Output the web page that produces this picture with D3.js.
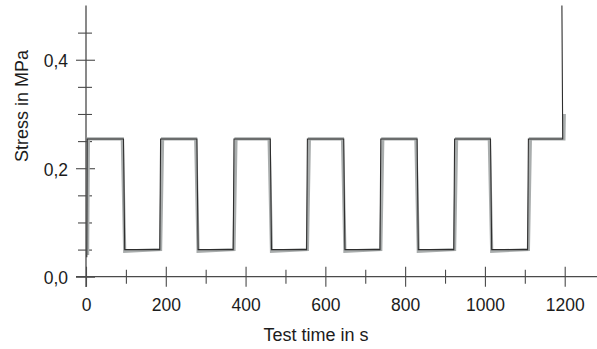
<!DOCTYPE html>
<html>
<head>
<meta charset="utf-8">
<script src="https://cdn.jsdelivr.net/npm/d3@7"></script>
<style>
  body { margin: 0; background: #fff; }
  svg text { font-family: "Liberation Sans", Arial, sans-serif; fill: #1c1c1c; }
</style>
</head>
<body>
<svg id="chart" width="597" height="349"></svg>
<script>
// data (time in s, stress in MPa)
const darkTime   = [2, 3, 94, 97, 185, 187, 278, 281, 369, 371, 462, 465, 553, 555, 646, 649, 737, 739, 830, 833, 922, 924, 1014, 1017, 1107, 1109, 1195, 1193];
const darkStress = [0.036, 0.254, 0.254, 0.05, 0.05, 0.254, 0.254, 0.05, 0.05, 0.254, 0.254, 0.05, 0.05, 0.254, 0.254, 0.05, 0.05, 0.254, 0.254, 0.05, 0.05, 0.254, 0.254, 0.05, 0.05, 0.254, 0.254, 0.5];

const greyTime   = [4, 6, 91, 97, 187, 192, 275, 281, 371, 376, 459, 465, 555, 560, 643, 649, 739, 744, 827, 833, 924, 929, 1011, 1017, 1109, 1114, 1198, 1199];
const greyStress = [0.04, 0.254, 0.254, 0.047, 0.05, 0.254, 0.254, 0.047, 0.05, 0.254, 0.254, 0.047, 0.05, 0.254, 0.254, 0.047, 0.05, 0.254, 0.254, 0.047, 0.05, 0.254, 0.254, 0.047, 0.05, 0.254, 0.254, 0.30];

const xMajor = [0, 200, 400, 600, 800, 1000, 1200];
const xMinor = [100, 300, 500, 700, 900, 1100];
const yMajor = [0, 0.2, 0.4];
const yMinor = [0.05, 0.1, 0.15, 0.25, 0.3, 0.35, 0.45];

const svg = d3.select("#chart");
const W = 597;

const x = d3.scaleLinear().domain([0, 1200]).range([86, 564.7]);
const y = d3.scaleLinear().domain([0, 0.5]).range([276.7, 5.5]);

const axisColor = "#4a4a4a";

// axis lines
svg.append("line")
  .attr("x1", 76).attr("x2", W)
  .attr("y1", y(0)).attr("y2", y(0))
  .attr("stroke", axisColor).attr("stroke-width", 1.3);
svg.append("line")
  .attr("x1", x(0)).attr("x2", x(0))
  .attr("y1", y(0.5)).attr("y2", 287)
  .attr("stroke", axisColor).attr("stroke-width", 1.3);

// x axis ticks + labels
const xAxis = svg.append("g")
  .attr("transform", "translate(0," + y(0) + ")")
  .call(d3.axisBottom(x).tickValues(xMajor).tickSize(0).tickPadding(22).tickFormat(d3.format("d")));
xAxis.select(".domain").remove();
xAxis.selectAll(".tick line").attr("y1", -10).attr("y2", 10).attr("stroke", axisColor).attr("stroke-width", 1.1);
xAxis.selectAll(".tick text").attr("font-size", 17.5).attr("dy", "0.71em");

const xMinorAxis = svg.append("g")
  .attr("transform", "translate(0," + y(0) + ")")
  .call(d3.axisBottom(x).tickValues(xMinor).tickSize(0).tickFormat(""));
xMinorAxis.select(".domain").remove();
xMinorAxis.selectAll(".tick line").attr("y1", -7).attr("y2", 7).attr("stroke", axisColor).attr("stroke-width", 1.1);

// y axis ticks + labels
const yAxis = svg.append("g")
  .attr("transform", "translate(" + x(0) + ",0)")
  .call(d3.axisLeft(y).tickValues(yMajor).tickSize(0).tickPadding(18)
    .tickFormat(d => d.toFixed(1).replace(".", ",")));
yAxis.select(".domain").remove();
yAxis.selectAll(".tick line").attr("x1", -10).attr("x2", 9).attr("stroke", axisColor).attr("stroke-width", 1.1);
yAxis.selectAll(".tick text").attr("font-size", 17.5).attr("dy", "0.39em");

const yMinorAxis = svg.append("g")
  .attr("transform", "translate(" + x(0) + ",0)")
  .call(d3.axisLeft(y).tickValues(yMinor).tickSize(0).tickFormat(""));
yMinorAxis.select(".domain").remove();
yMinorAxis.selectAll(".tick line").attr("x1", -8).attr("x2", 6).attr("stroke", axisColor).attr("stroke-width", 1.1);

// axis titles
svg.append("text")
  .attr("x", 316).attr("y", 341)
  .attr("text-anchor", "middle")
  .attr("font-size", 18)
  .text("Test time in s");

svg.append("text")
  .attr("transform", "translate(28,106) rotate(-90)")
  .attr("text-anchor", "middle")
  .attr("font-size", 18)
  .text("Stress in MPa");

// curves
const line = d3.line().x(d => x(d[0])).y(d => y(d[1]));

svg.append("path")
  .datum(d3.zip(greyTime, greyStress))
  .attr("fill", "none")
  .attr("stroke", "#a9adad")
  .attr("stroke-width", 3.2)
  .attr("d", line);

svg.append("path")
  .datum(d3.zip(darkTime, darkStress))
  .attr("fill", "none")
  .attr("stroke", "#2e2e2e")
  .attr("stroke-width", 1.1)
  .attr("d", line);
</script>
</body>
</html>
